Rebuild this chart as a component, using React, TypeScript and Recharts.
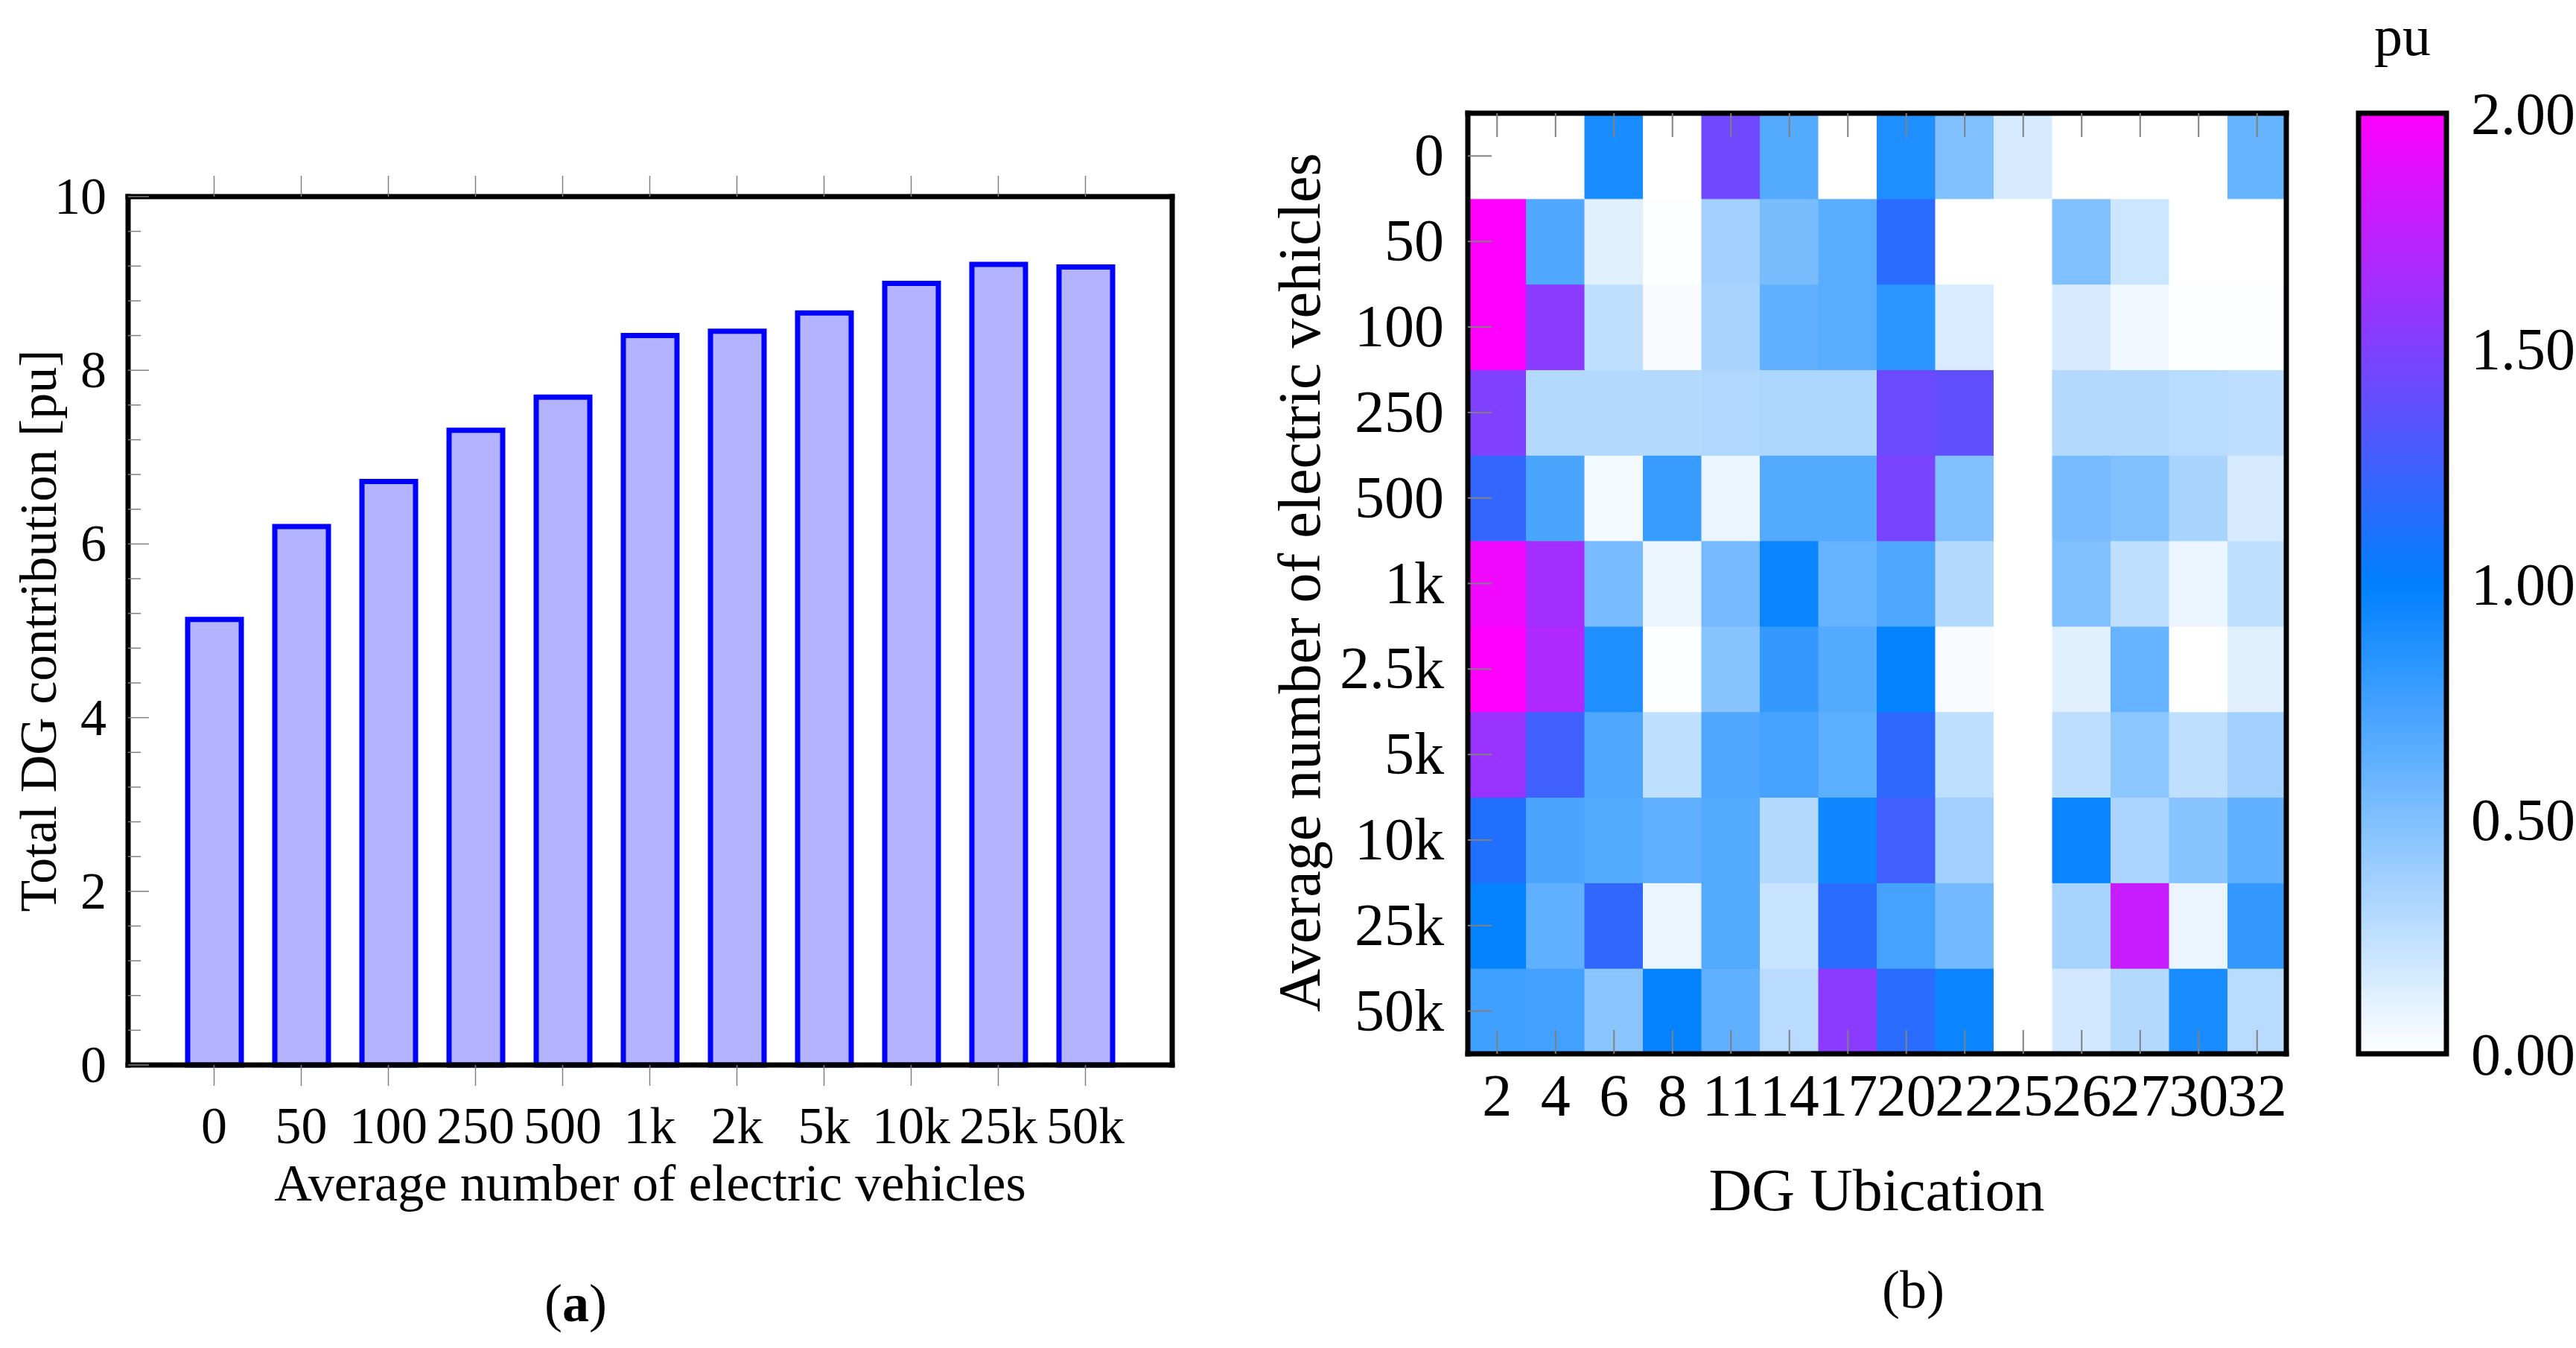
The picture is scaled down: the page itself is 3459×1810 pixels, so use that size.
import React from 'react'
import { BarChart, Bar, XAxis, YAxis, Cell } from 'recharts'

const FONT = '"Liberation Serif", "Times New Roman", serif'
const TICK_GRAY = '#808080'
const frameLine = { stroke: '#000', strokeWidth: 7, strokeLinecap: 'square' as const }

// (a) total DG contribution per EV level
const evLevels = ['0', '50', '100', '250', '500', '1k', '2k', '5k', '10k', '25k', '50k']
const totalDG = [5.13, 6.2, 6.72, 7.31, 7.69, 8.4, 8.45, 8.66, 9.0, 9.22, 9.19]
const totalYTicks = [0, 2, 4, 6, 8, 10]

// (b) DG contribution per location, rows top -> bottom
const dgLocations = ['2', '4', '6', '8', '11', '14', '17', '20', '22', '25', '26', '27', '30', '32']
const evRows = ['0', '50', '100', '250', '500', '1k', '2.5k', '5k', '10k', '25k', '50k']
const heatValues = [
  [0, 0, 0.9, 0, 1.44, 0.67, 0, 0.88, 0.5, 0.16, 0, 0, 0, 0.6], // 0
  [2.0, 0.69, 0.12, 0.01, 0.36, 0.52, 0.65, 1.16, 0, 0, 0.5, 0.2, 0, 0], // 50
  [2.0, 1.54, 0.25, 0.03, 0.34, 0.62, 0.65, 0.83, 0.15, 0, 0.16, 0.06, 0.01, 0.01], // 100
  [1.5, 0.3, 0.3, 0.3, 0.31, 0.32, 0.32, 1.42, 1.38, 0, 0.3, 0.3, 0.28, 0.26], // 250
  [1.2, 0.71, 0.05, 0.78, 0.08, 0.67, 0.67, 1.48, 0.5, 0, 0.53, 0.5, 0.34, 0.16], // 500
  [1.94, 1.64, 0.53, 0.07, 0.54, 0.96, 0.6, 0.69, 0.3, 0, 0.5, 0.25, 0.08, 0.25], // 1k
  [2.0, 1.68, 0.88, 0.01, 0.47, 0.8, 0.67, 0.98, 0.03, 0, 0.12, 0.6, 0, 0.12], // 2.5k
  [1.6, 1.25, 0.69, 0.25, 0.69, 0.73, 0.64, 1.18, 0.25, 0, 0.26, 0.45, 0.25, 0.37], // 5k
  [1.13, 0.71, 0.67, 0.62, 0.67, 0.3, 0.94, 1.25, 0.37, 0, 0.96, 0.33, 0.47, 0.62], // 10k
  [0.98, 0.62, 1.19, 0.08, 0.67, 0.22, 1.16, 0.73, 0.55, 0, 0.35, 1.78, 0.08, 0.8], // 25k
  [0.75, 0.74, 0.46, 0.98, 0.62, 0.28, 1.54, 1.16, 0.96, 0, 0.18, 0.3, 0.9, 0.28], // 50k
]
const colorRange = [0, 2]
const colorTicks = [0, 0.5, 1, 1.5, 2]

// white -> blue -> magenta
const colormap = (v: number) => {
  const c = v <= 1 ? [255 * (1 - v), 255 - 127 * v, 255] : [255 * (v - 1), 128 * (2 - v), 255]
  return `rgb(${c.map((n) => Math.round(n)).join(',')})`
}

const totalData = evLevels.map((ev, i) => ({ ev, value: totalDG[i] }))
// minor ticks every 0.4 between the labelled ones
const totalAllTicks = Array.from({ length: 26 }, (_, i) => (i * 2) / 5)

const heatData = dgLocations.map((dg) => {
  const row: any = { dg }
  evRows.forEach((_, k) => (row[`r${k}`] = 1))
  return row
})
const rowTicks = evRows.map((_, i) => i + 0.5)

const txt = { fontFamily: FONT, fill: '#000' }

function TotalYTickLeft({ x, y, payload }: any) {
  const major = totalYTicks.includes(payload.value)
  return (
    <g>
      <line x1={x} x2={x + (major ? 28 : 17)} y1={y} y2={y} stroke={TICK_GRAY} strokeWidth={1.5} />
      {major && (
        <text {...txt} x={x - 29} y={y + 23} textAnchor="end" fontSize={70}>
          {payload.value}
        </text>
      )}
    </g>
  )
}

function TotalYTickRight({ x, y, payload }: any) {
  const major = totalYTicks.includes(payload.value)
  return <line x1={x} x2={x - (major ? 28 : 17)} y1={y} y2={y} stroke={TICK_GRAY} strokeWidth={1.5} />
}

function TotalXTickBottom({ x, y, payload }: any) {
  return (
    <g>
      <line x1={x} x2={x} y1={y} y2={y + 28} stroke={TICK_GRAY} strokeWidth={1.5} />
      <text {...txt} x={x} y={y + 105} textAnchor="middle" fontSize={70}>
        {payload.value}
      </text>
    </g>
  )
}

function TotalXTickTop({ x, y }: any) {
  return <line x1={x} x2={x} y1={y} y2={y - 28} stroke={TICK_GRAY} strokeWidth={1.5} />
}

function HeatXTickBottom({ x, y, payload }: any) {
  return (
    <g>
      <line x1={x} x2={x} y1={y} y2={y - 32} stroke={TICK_GRAY} strokeWidth={2} />
      <text {...txt} x={x} y={y + 83} textAnchor="middle" fontSize={80}>
        {payload.value}
      </text>
    </g>
  )
}

function HeatXTickTop({ x, y }: any) {
  return <line x1={x} x2={x} y1={y} y2={y + 32} stroke={TICK_GRAY} strokeWidth={2} />
}

function HeatYTickLeft({ x, y, payload }: any) {
  const label = evRows[evRows.length - 1 - Math.floor(payload.value)]
  return (
    <g>
      <line x1={x} x2={x + 32} y1={y} y2={y} stroke={TICK_GRAY} strokeWidth={2} />
      <text {...txt} x={x - 32} y={y + 26} textAnchor="end" fontSize={80}>
        {label}
      </text>
    </g>
  )
}

function HeatYTickRight({ x, y }: any) {
  return <line x1={x} x2={x - 32} y1={y} y2={y} stroke={TICK_GRAY} strokeWidth={2} />
}

function TotalChart() {
  return (
    <BarChart width={1700} height={1810} data={totalData} margin={{ top: 254, right: 116, bottom: 180, left: 0 }}>
      <Bar dataKey="value" fill="#b3b3ff" stroke="#0000ff" strokeWidth={7} barSize={72} isAnimationActive={false} />
      <XAxis dataKey="ev" type="category" height={200} padding={{ left: 57, right: 58 }} interval={0}
        tickSize={0} tickMargin={0} tickLine={false} axisLine={frameLine} tick={<TotalXTickBottom />} />
      <XAxis xAxisId="top" orientation="top" dataKey="ev" type="category" height={10} padding={{ left: 57, right: 58 }}
        interval={0} tickSize={0} tickMargin={0} tickLine={false} axisLine={frameLine} tick={<TotalXTickTop />} />
      <YAxis type="number" domain={[0, 10]} ticks={totalAllTicks} width={172} interval={0}
        tickSize={0} tickMargin={0} tickLine={false} axisLine={frameLine} tick={<TotalYTickLeft />} />
      <YAxis yAxisId="r" orientation="right" type="number" domain={[0, 10]} ticks={totalAllTicks} width={10} interval={0}
        tickSize={0} tickMargin={0} tickLine={false} axisLine={frameLine} tick={<TotalYTickRight />} />
    </BarChart>
  )
}

function HeatChart() {
  return (
    <BarChart width={1450} height={1810} data={heatData} margin={{ top: 142, right: 20, bottom: 145, left: 0 }}
      barCategoryGap={0} barGap={0}>
      {evRows.map((_, k) => {
        const rowIdx = evRows.length - 1 - k
        return (
          <Bar key={k} dataKey={`r${k}`} stackId="cells" isAnimationActive={false}>
            {dgLocations.map((dg, c) => {
              const col = colormap(heatValues[rowIdx][c])
              return <Cell key={dg} fill={col} stroke={col} strokeWidth={1} />
            })}
          </Bar>
        )
      })}
      <XAxis dataKey="dg" type="category" height={250} interval={0} tickSize={0} tickMargin={0}
        tickLine={false} axisLine={frameLine} tick={<HeatXTickBottom />} />
      <XAxis xAxisId="top" orientation="top" dataKey="dg" type="category" height={10} interval={0} tickSize={0}
        tickMargin={0} tickLine={false} axisLine={frameLine} tick={<HeatXTickTop />} />
      <YAxis type="number" domain={[0, evRows.length]} ticks={rowTicks} width={321} interval={0} tickSize={0}
        tickMargin={0} tickLine={false} axisLine={frameLine} tick={<HeatYTickLeft />} />
      <YAxis yAxisId="r" orientation="right" type="number" domain={[0, evRows.length]} ticks={rowTicks} width={10}
        interval={0} tickSize={0} tickMargin={0} tickLine={false} axisLine={frameLine} tick={<HeatYTickRight />} />
    </BarChart>
  )
}

function ColorBar() {
  return (
    <BarChart width={309} height={1810} data={[{ name: 'pu', value: colorRange[1] }]}
      margin={{ top: 152, right: 0, bottom: 395, left: 17 }} barCategoryGap={0}>
      <defs>
        <linearGradient id="puScale" x1="0" y1="0" x2="0" y2="1">
          <stop offset="0%" stopColor={colormap(2)} />
          <stop offset="50%" stopColor={colormap(1)} />
          <stop offset="100%" stopColor={colormap(0)} />
        </linearGradient>
      </defs>
      <Bar dataKey="value" fill="url(#puScale)" stroke="#000" strokeWidth={7} isAnimationActive={false} />
      <XAxis dataKey="name" hide />
      <YAxis orientation="right" type="number" domain={colorRange} ticks={colorTicks} width={174} interval={0}
        tickSize={0} tickMargin={33} axisLine={false} tickLine={false}
        tick={{ fontSize: 80, fill: '#000', fontFamily: FONT }} tickFormatter={(v: number) => v.toFixed(2)} />
    </BarChart>
  )
}

export default function App() {
  return (
    <div style={{ position: 'absolute', left: 0, top: 0, width: 3459, height: 1810, background: '#fff' }}>
      <div style={{ position: 'absolute', left: 0, top: 0 }}>
        <TotalChart />
      </div>
      <div style={{ position: 'absolute', left: 1650, top: 0 }}>
        <HeatChart />
      </div>
      <div style={{ position: 'absolute', left: 3150, top: 0 }}>
        <ColorBar />
      </div>
      <svg width={3459} height={1810} style={{ position: 'absolute', left: 0, top: 0, pointerEvents: 'none' }}>
        <g {...txt}>
          <text x={75} y={847} fontSize={70} textAnchor="middle" transform="rotate(-90 75 847)">
            Total DG contribution [pu]
          </text>
          <text x={873} y={1612} fontSize={70} textAnchor="middle">
            Average number of electric vehicles
          </text>
          <text x={773} y={1774} fontSize={72} textAnchor="middle">
            (<tspan fontWeight="bold">a</tspan>)
          </text>
          <text x={1772} y={782} fontSize={80} textAnchor="middle" transform="rotate(-90 1772 782)">
            Average number of electric vehicles
          </text>
          <text x={2520} y={1625} fontSize={80} textAnchor="middle">
            DG Ubication
          </text>
          <text x={2569} y={1756} fontSize={72} textAnchor="middle">
            (b)
          </text>
          <text x={3226} y={74} fontSize={76} textAnchor="middle">
            pu
          </text>
        </g>
      </svg>
    </div>
  )
}
